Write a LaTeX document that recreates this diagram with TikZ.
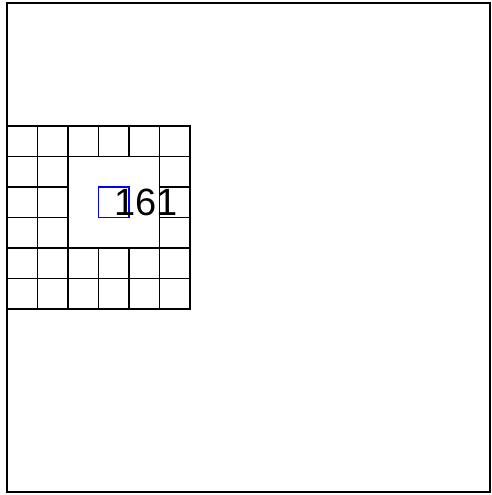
\documentclass[tikz,border=0pt]{standalone}
\usepackage{fontspec}
\setmainfont{Liberation Sans}
\begin{document}
\begin{tikzpicture}[x=1pt,y=1pt,
  gridline/.style={draw=black,line width=1.8pt,line cap=rect},
  bluecell/.style={draw=blue,line width=1.4pt,minimum size=30.5pt,inner sep=0pt,outer sep=0pt},
  frame/.style={draw=black,line width=1.6pt}]
\useasboundingbox (0,0) rectangle (492,495);
\draw[frame] (7,492) rectangle (490,3);
% full horizontal lines
\foreach \k in {0,1,4,5,6}{
  \draw[gridline] ({7},{495-126-30.5*\k}) -- ({190},{495-126-30.5*\k});
}
% full vertical lines
\foreach \k in {0,1,2,5,6}{
  \draw[gridline] ({7+30.5*\k},{495-126}) -- ({7+30.5*\k},{495-309});
}
% partial horizontal lines
\foreach \k in {2,3}{
  \draw[gridline] ({7},{495-126-30.5*\k}) -- ({68},{495-126-30.5*\k});
  \draw[gridline] ({159.5},{495-126-30.5*\k}) -- ({190},{495-126-30.5*\k});
}
% partial vertical lines
\foreach \k in {3,4}{
  \draw[gridline] ({7+30.5*\k},{495-126}) -- ({7+30.5*\k},{495-156.5});
  \draw[gridline] ({7+30.5*\k},{495-248}) -- ({7+30.5*\k},{495-309});
}
\node[bluecell] (b) at ({7+30.5*3+15.25},{495-126-30.5*2-15.25}) {};
\node[font=\fontsize{38}{40}\selectfont,inner sep=0pt] (t) at (146,293) {161};
\end{tikzpicture}
\end{document}
